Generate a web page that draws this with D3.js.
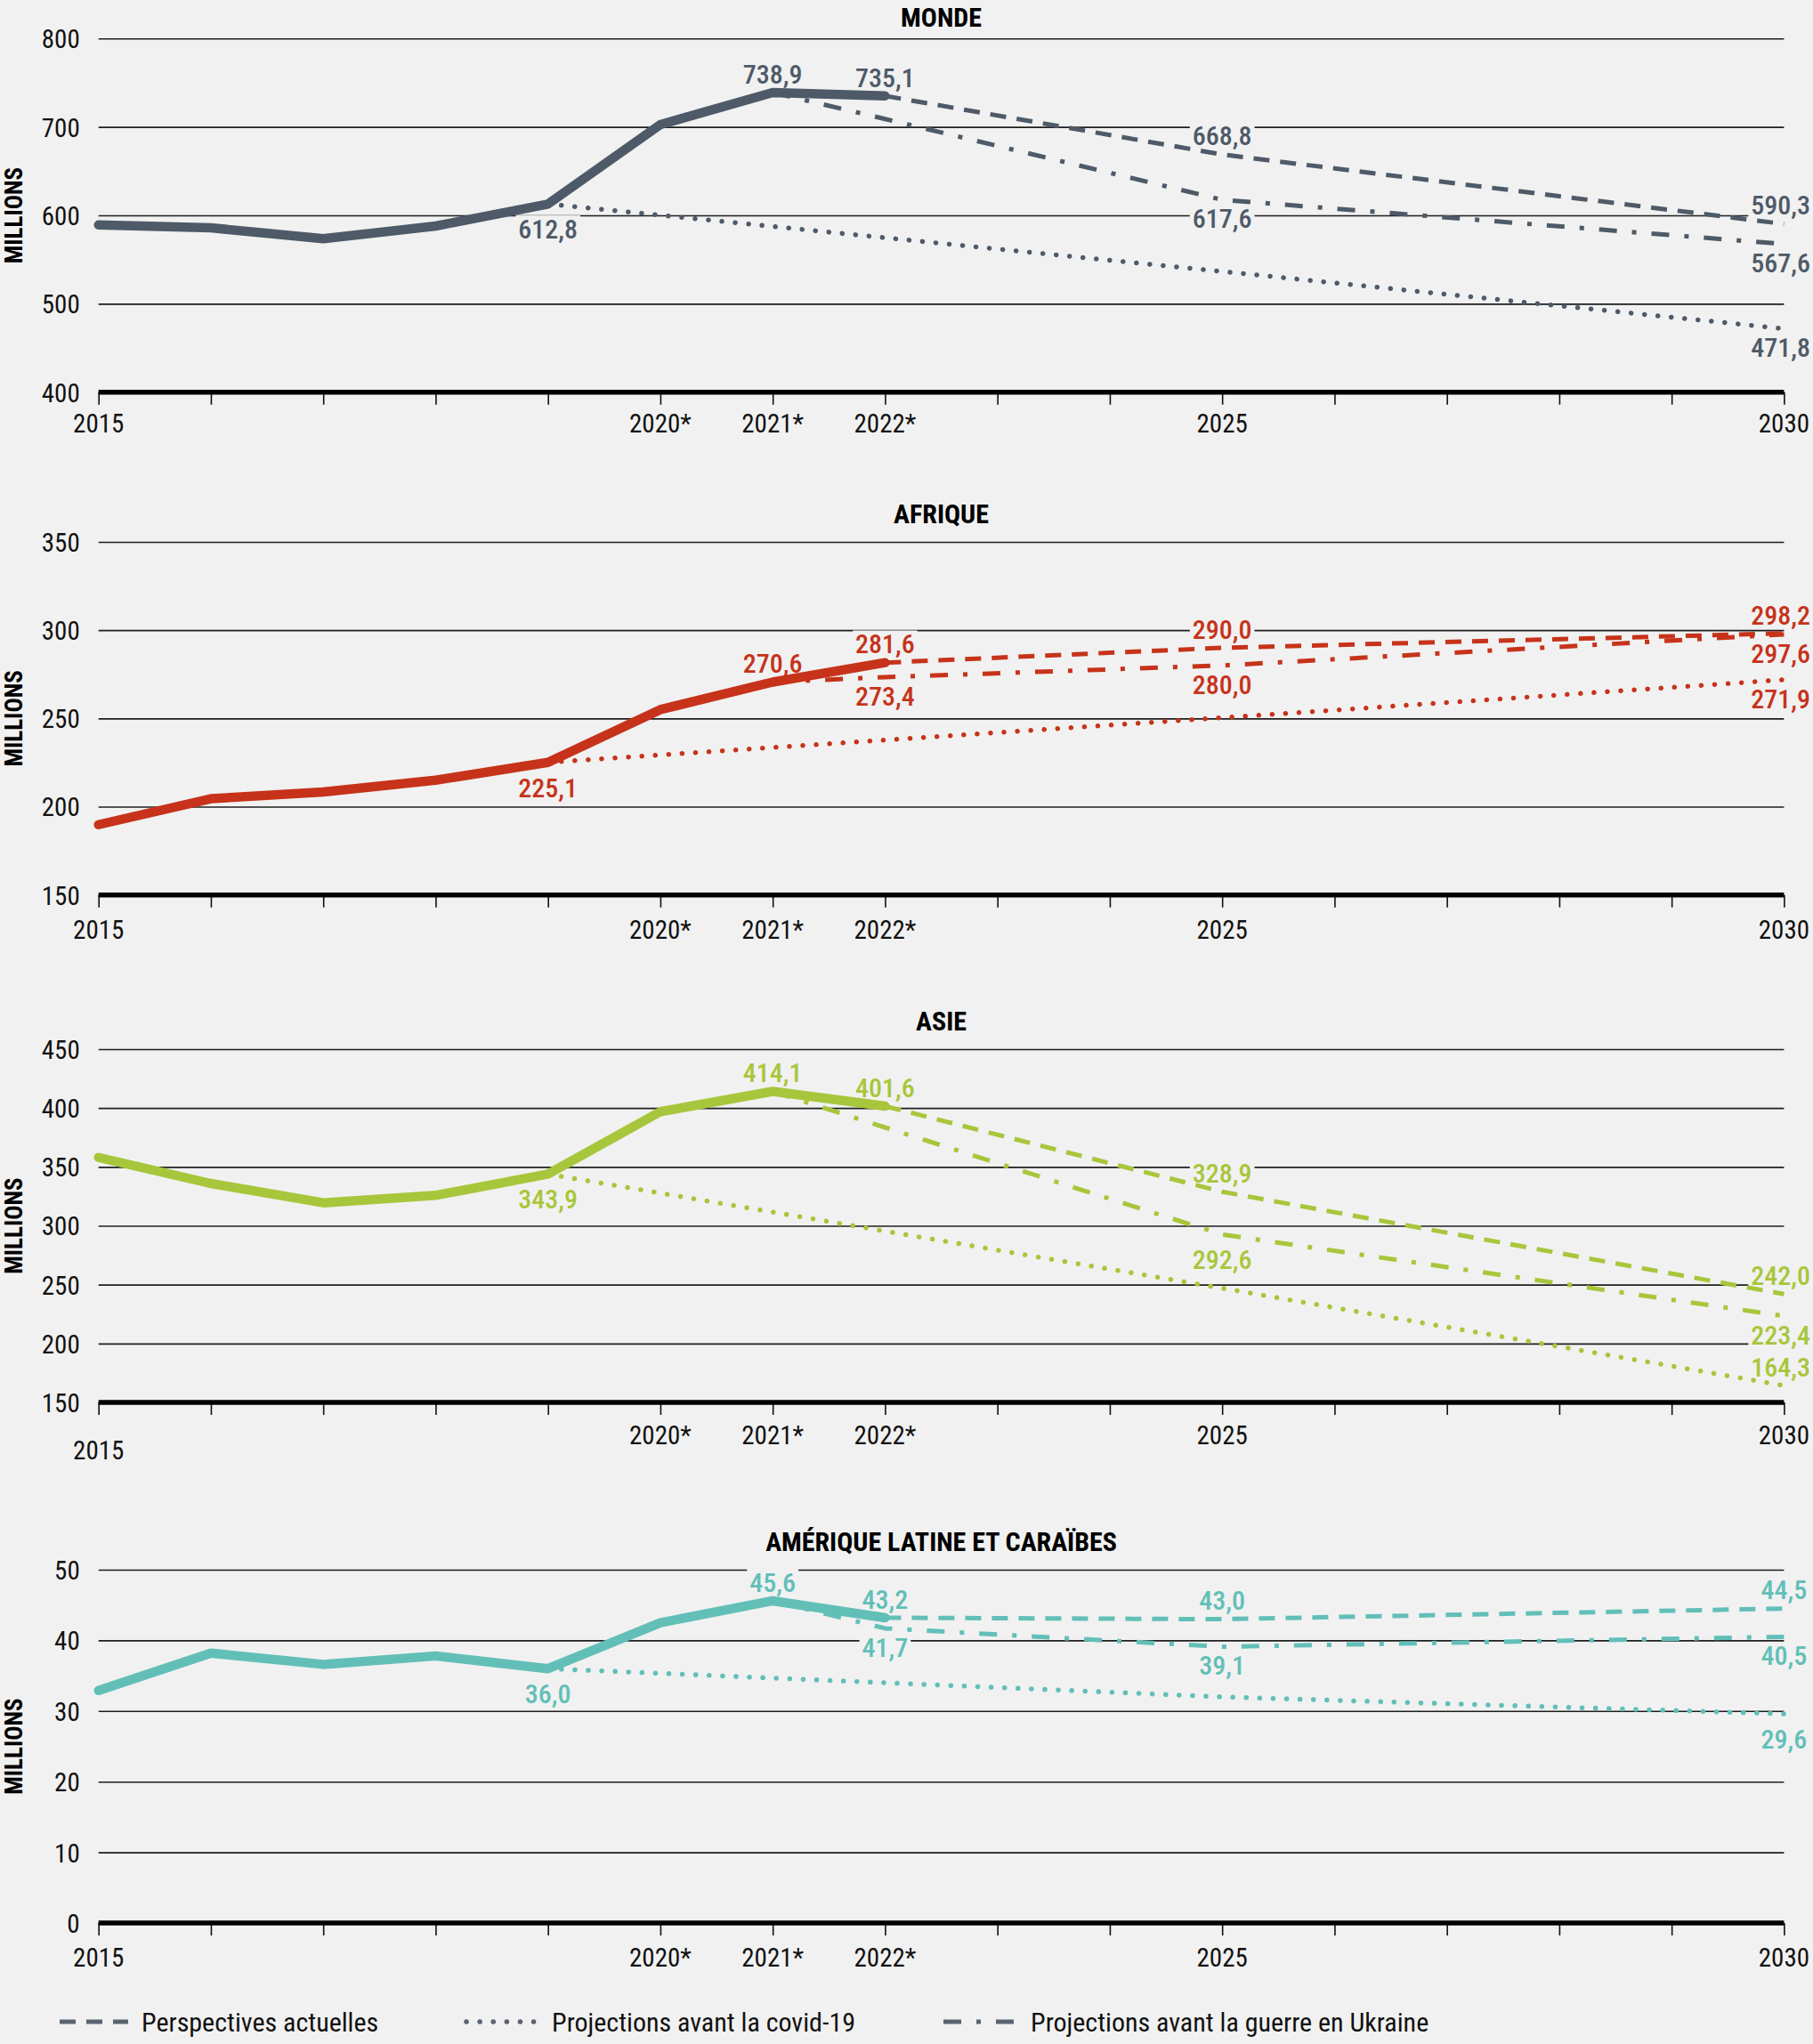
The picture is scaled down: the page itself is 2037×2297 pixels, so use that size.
<!DOCTYPE html>
<html><head><meta charset="utf-8">
<script src="https://cdn.jsdelivr.net/npm/d3@7/dist/d3.min.js"></script>
<style>
html,body{margin:0;padding:0;background:#f1f1f1;}
svg{display:block;}
text{font-family:'Liberation Sans Narrow','Roboto Condensed','DejaVu Sans Condensed','Liberation Sans',sans-serif;}
</style></head>
<body>
<svg id="chart" width="2037" height="2297"></svg>
<script>
// ---------------- DATA ----------------
const histYears = [2015, 2016, 2017, 2018, 2019, 2020, 2021, 2022];
const currentYears = [2022, 2025, 2030];
const covidYears = [2019, 2025, 2030];
const ukraineYears = [2021, 2022, 2025, 2030];

const tickYears = [2015, 2016, 2017, 2018, 2019, 2020, 2021, 2022, 2023, 2024, 2025, 2026, 2027, 2028, 2029, 2030];
const xLabelYears = [2015, 2020, 2021, 2022, 2025, 2030];
const xLabelTexts = ["2015", "2020*", "2021*", "2022*", "2025", "2030"];

const regionTitles = ["MONDE", "AFRIQUE", "ASIE", "AMÉRIQUE LATINE ET CARAÏBES"];
const yTicksMonde = [400, 500, 600, 700, 800];
const yTicksAfrique = [150, 200, 250, 300, 350];
const yTicksAsie = [150, 200, 250, 300, 350, 400, 450];
const yTicksAmerique = [0, 10, 20, 30, 40, 50];

const mondeHist = [589.2, 585.9, 573.5, 587.9, 612.8, 702.6, 738.9, 735.1];
const mondeCurrent = [735.1, 668.8, 590.3];
const mondeCovid = [612.8, 536.5, 471.8];
const mondeUkraine = [738.9, 709.0, 617.6, 567.6];

const afriqueHist = [189.8, 204.5, 208.3, 215.0, 225.1, 255.0, 270.6, 281.6];
const afriqueCurrent = [281.6, 290.0, 298.2];
const afriqueCovid = [225.1, 250.4, 271.9];
const afriqueUkraine = [270.6, 273.4, 280.0, 297.6];

const asieHist = [358.0, 335.9, 319.5, 325.8, 343.9, 396.9, 414.1, 401.6];
const asieCurrent = [401.6, 328.9, 242.0];
const asieCovid = [343.9, 247.0, 164.3];
const asieUkraine = [414.1, 383.5, 292.6, 223.4];

const ameriqueHist = [32.9, 38.2, 36.6, 37.8, 36.0, 42.5, 45.6, 43.2];
const ameriqueCurrent = [43.2, 43.0, 44.5];
const ameriqueCovid = [36.0, 32.0, 29.6];
const ameriqueUkraine = [45.6, 41.7, 39.1, 40.5];

// value labels: [series, year, value]
const mondeLabels = [["hist",2019,612.8],["hist",2021,738.9],["hist",2022,735.1],["current",2025,668.8],["ukraine",2025,617.6],["current",2030,590.3],["ukraine",2030,567.6],["covid",2030,471.8]];
const afriqueLabels = [["hist",2019,225.1],["hist",2021,270.6],["hist",2022,281.6],["ukraine",2022,273.4],["current",2025,290.0],["ukraine",2025,280.0],["current",2030,298.2],["ukraine",2030,297.6],["covid",2030,271.9]];
const asieLabels = [["hist",2019,343.9],["hist",2021,414.1],["hist",2022,401.6],["current",2025,328.9],["ukraine",2025,292.6],["current",2030,242.0],["ukraine",2030,223.4],["covid",2030,164.3]];
const ameriqueLabels = [["hist",2019,36.0],["hist",2021,45.6],["hist",2022,43.2],["ukraine",2022,41.7],["current",2025,43.0],["ukraine",2025,39.1],["current",2030,44.5],["ukraine",2030,40.5],["covid",2030,29.6]];

const legendLabels = ["Perspectives actuelles", "Projections avant la covid-19", "Projections avant la guerre en Ukraine"];

// ---------------- LAYOUT / STYLE ----------------
const labelPlacement = {
  monde:    ["belowFar","above","above","above","below","above","below","below"],
  afrique:  ["belowFar","above","above","below","above","below","above","below","below"],
  asie:     ["belowFar","above","above","above","belowFar","above","below","above"],
  amerique: ["belowFar","above","above","below","above","below","above","below","belowFar"]
};
const placementDy = {above:-21, below:21, belowFar:28};

const BG = "#f1f1f1";
const panels = [
  {key:"monde", title:regionTitles[0], ticks:yTicksMonde, top:43.3, bottom:440.7, color:"#4e5a68", titleDy:-13,
   hist:mondeHist, current:mondeCurrent, covid:mondeCovid, ukraine:mondeUkraine, labels:mondeLabels, xLabelDy:35, firstXLabelDy:35},
  {key:"afrique", title:regionTitles[1], ticks:yTicksAfrique, top:609, bottom:1005.7, color:"#c6331a", titleDy:-21,
   hist:afriqueHist, current:afriqueCurrent, covid:afriqueCovid, ukraine:afriqueUkraine, labels:afriqueLabels, xLabelDy:39, firstXLabelDy:39},
  {key:"asie", title:regionTitles[2], ticks:yTicksAsie, top:1179, bottom:1576, color:"#a8c63b", titleDy:-21,
   hist:asieHist, current:asieCurrent, covid:asieCovid, ukraine:asieUkraine, labels:asieLabels, xLabelDy:37, firstXLabelDy:54},
  {key:"amerique", title:regionTitles[3], ticks:yTicksAmerique, top:1764, bottom:2161, color:"#62bfb8", titleDy:-21,
   hist:ameriqueHist, current:ameriqueCurrent, covid:ameriqueCovid, ukraine:ameriqueUkraine, labels:ameriqueLabels, xLabelDy:39, firstXLabelDy:39}
];

const styles = {
  current: {width:5, dash:"18,12", cap:"butt"},
  covid:   {width:5.5, dash:"0.1,15", cap:"round"},
  ukraine: {width:5, dash:"20,17,5,17", cap:"butt"}
};

const svg = d3.select("#chart");
svg.append("rect").attr("width",2037).attr("height",2297).attr("fill",BG);

const x = d3.scaleLinear().domain([2015, 2030]).range([110.7, 2004.4]);
const clampRight = t => {
  const b = t.node().getBBox();
  if (b.x + b.width > 2034) t.attr("x", +t.attr("x") - (b.x + b.width - 2034));
};

panels.forEach(p => {
  const y = d3.scaleLinear().domain(d3.extent(p.ticks)).range([p.bottom, p.top]);
  const g = svg.append("g");
  const gridL = g.append("g"), knockL = g.append("g"), lineL = g.append("g"), textL = g.append("g");

  // gridlines
  const yAxis = d3.axisLeft(y).tickValues(p.ticks).tickSize(-(x(2030) - x(2015))).tickPadding(22).tickFormat(d3.format("d"));
  const ya = gridL.append("g").attr("transform", `translate(${x(2015)},0)`).call(yAxis);
  ya.select(".domain").remove();
  ya.selectAll(".tick line").attr("stroke", "#1e1e1e").attr("stroke-width", 1.6);
  ya.selectAll(".tick text").attr("font-size", 29).attr("fill", "#111").attr("dy","0.36em").attr("x", -21);

  // x axis: baseline + ticks
  const xAxis = d3.axisBottom(x).tickValues(tickYears).tickSize(14).tickFormat("");
  const xa = gridL.append("g").attr("transform", `translate(0,${p.bottom})`).call(xAxis);
  xa.select(".domain").remove();
  xa.selectAll(".tick line").attr("stroke", "#111").attr("stroke-width", 1.6);
  gridL.append("line").attr("x1", x(2015)).attr("x2", x(2030)).attr("y1", p.bottom).attr("y2", p.bottom)
    .attr("stroke", "#000").attr("stroke-width", 5.5);

  xLabelYears.forEach((yr, i) => {
    const t = gridL.append("text").attr("x", x(yr)).attr("y", p.bottom + (i === 0 ? p.firstXLabelDy : p.xLabelDy))
      .attr("dy", "0.36em").attr("text-anchor", "middle").attr("font-size", 29).attr("fill", "#111")
      .text(xLabelTexts[i]);
    clampRight(t);
  });

  // title
  g.append("text").attr("x", (x(2015) + x(2030)) / 2).attr("y", p.top + p.titleDy).attr("text-anchor", "middle")
    .attr("font-size", 30).attr("font-weight", "bold").attr("fill", "#000").text(p.title);

  // MILLIONS
  g.append("text").attr("transform", `translate(15,${(p.top + p.bottom) / 2}) rotate(-90)`)
    .attr("text-anchor", "middle").attr("dy", "0.36em").attr("font-size", 27).attr("font-weight", "bold")
    .attr("fill", "#000").text("MILLIONS");

  // projection lines
  const mk = (yrs, vals) => yrs.map((yr, i) => [yr, vals[i]]);
  const line = d3.line().x(d => x(d[0])).y(d => y(d[1]));
  [["covid", covidYears, p.covid], ["ukraine", ukraineYears, p.ukraine], ["current", currentYears, p.current]].forEach(([k, yrs, vals]) => {
    const s = styles[k];
    lineL.append("path").datum(mk(yrs, vals)).attr("d", line).attr("fill", "none")
      .attr("stroke", p.color).attr("stroke-width", s.width).attr("stroke-dasharray", s.dash)
      .attr("stroke-linecap", s.cap).attr("stroke-linejoin", "round");
  });
  // historical line
  lineL.append("path").datum(mk(histYears, p.hist)).attr("d", line).attr("fill", "none")
    .attr("stroke", p.color).attr("stroke-width", 10.5).attr("stroke-linecap", "round").attr("stroke-linejoin", "round");

  // labels
  const fmt = v => d3.format(".1f")(v).replace(".", ",");
  p.labels.forEach((l, i) => {
    const pl = labelPlacement[p.key][i];
    const t = textL.append("text").attr("x", x(l[1])).attr("y", y(l[2]) + placementDy[pl])
      .attr("dy", "0.36em").attr("text-anchor", "middle").attr("font-size", 30).attr("font-weight", 500).attr("fill", p.color)
      .text(fmt(l[2]));
    clampRight(t);
    const b = t.node().getBBox();
    knockL.append("rect").attr("x", b.x - 3).attr("y", b.y + 2).attr("width", b.width + 6).attr("height", b.height - 4).attr("fill", BG);
  });
});

// legend
const legendY = 2272;
const legendColor = "#5a6470";
const lg = svg.append("g");
const legendSamples = [
  {k:"current", x1:67, x2:144, tx:159},
  {k:"covid", x1:524, x2:604, tx:620},
  {k:"ukraine", x1:1060, x2:1141, tx:1158}
];
legendSamples.forEach((s, i) => {
  const st = styles[s.k];
  lg.append("line").attr("x1", s.x1).attr("x2", s.x2).attr("y1", legendY).attr("y2", legendY)
    .attr("stroke", legendColor).attr("stroke-width", st.width).attr("stroke-dasharray", st.dash).attr("stroke-linecap", st.cap);
  lg.append("text").attr("x", s.tx).attr("y", legendY).attr("dy", "0.36em").attr("font-size", 30).attr("fill", "#111").text(legendLabels[i]);
});
</script>
</body></html>
